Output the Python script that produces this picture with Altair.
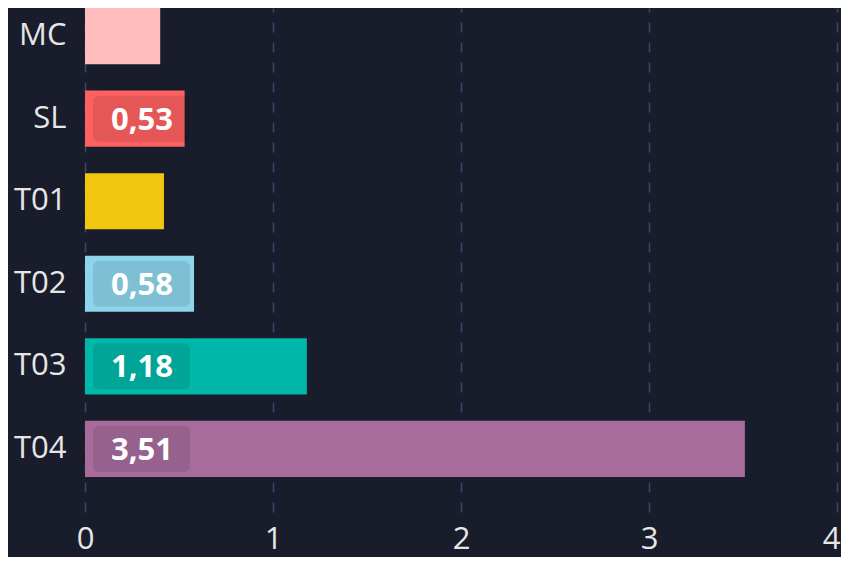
import altair as alt
import pandas as pd

categories = ["MC", "SL", "T01", "T02", "T03", "T04"]
values = [0.40, 0.53, 0.42, 0.58, 1.18, 3.51]
colors = ["#ffbcbc", "#ff6161", "#f1c80f", "#8ed5ec", "#00b8a9", "#a86c9c"]
x_ticks = [0, 1, 2, 3, 4]

df = pd.DataFrame({"cat": categories, "value": values, "color": colors})

FONT = "Open Sans"

y_enc = alt.Y(
    "cat:N",
    sort=categories,
    title=None,
    scale=alt.Scale(paddingInner=0.32, paddingOuter=0.212, align=0),
    axis=alt.Axis(
        domain=False, ticks=False, grid=False,
        labelFont=FONT, labelFontSize=31, labelColor="#e6e6e6",
        labelPadding=19, labelAlign="right",
    ),
)

bars = alt.Chart(df).mark_bar(orient="horizontal").encode(
    x=alt.X(
        "value:Q",
        title=None,
        scale=alt.Scale(domain=[0, 4], nice=False),
        axis=alt.Axis(
            values=x_ticks, domain=False, ticks=False,
            grid=True, gridColor="#3a4469", gridDash=[10, 10], gridWidth=1.6,
            labelFont=FONT, labelFontSize=31, labelColor="#e6e6e6",
            labelPadding=12, labelFlush=False, format="d",
            labelOffset={"expr": "datum.value == 4 ? -6 : 0"},
        ),
    ),
    y=y_enc,
    color=alt.Color("color:N", scale=None, legend=None),
)

labelled = alt.Chart(df).transform_filter("datum.value >= 0.5").transform_calculate(
    lbl="replace(format(datum.value, '.2f'), '.', ',')"
)

boxes = labelled.mark_bar(
    orient="horizontal", size=46, cornerRadius=6, color="#000000", opacity=0.1
).encode(
    x=alt.value(8),
    x2=alt.value(105),
    y=alt.Y("cat:N", sort=categories),
)

texts = labelled.mark_text(
    font=FONT, fontSize=31, fontWeight="bold", color="#ffffff",
    align="center", baseline="middle", dy=2,
).encode(
    x=alt.value(57),
    y=alt.Y("cat:N", sort=categories),
    text="lbl:N",
)

chart = alt.layer(bars, boxes, texts).properties(
    width=752,
    height=504,
    background="#191c2b",
    padding={"left": 77, "top": 0, "right": 4, "bottom": 45},
    autosize=alt.AutoSizeParams(type="none"),
).configure_view(stroke=None)

chart.save("out.html", embed_options={"renderer": "svg", "actions": False})
